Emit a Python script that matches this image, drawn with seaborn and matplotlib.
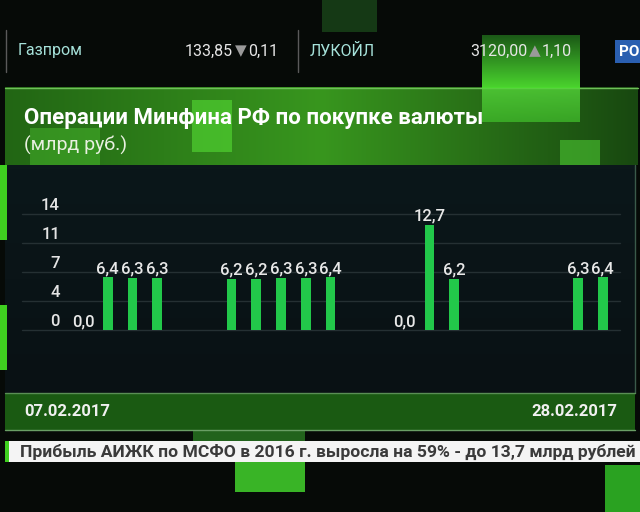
import numpy as np
import pandas as pd
import matplotlib
matplotlib.use("Agg")
import matplotlib.pyplot as plt
from matplotlib.patches import Rectangle
import seaborn as sns

# ---------------- data ----------------
dates = ["07.02", "08.02", "09.02", "10.02", "11.02", "12.02", "13.02", "14.02",
         "15.02", "16.02", "17.02", "18.02", "19.02", "20.02", "21.02", "22.02",
         "23.02", "24.02", "25.02", "26.02", "27.02", "28.02"]
values = [0.0, 6.4, 6.3, 6.3, np.nan, np.nan, 6.2, 6.2, 6.3, 6.3, 6.4, np.nan,
          np.nan, 0.0, 12.7, 6.2, np.nan, np.nan, np.nan, np.nan, 6.3, 6.4]
y_ticks = [0, 3.5, 7, 10.5, 14]
y_tick_labels = ["0", "4", "7", "11", "14"]
title = "Операции Минфина РФ по покупке валюты"
subtitle = "(млрд руб.)"
start_label = "07.02.2017"
end_label = "28.02.2017"
ticker_news = "Прибыль АИЖК по МСФО в 2016 г. выросла на 59% - до 13,7 млрд рублей"
stock_names = ["Газпром", "ЛУКОЙЛ"]
stock_prices = ["133,85", "3120,00"]
stock_arrows = ["▼", "▲"]
stock_changes = ["0,11", "1,10"]

df = pd.DataFrame({"date": dates, "value": values})

sns.set_theme(style="dark")
plt.rcParams["font.family"] = ["Roboto", "DejaVu Sans"]

W, H = 640, 512
fig = plt.figure(figsize=(6.4, 5.12), dpi=100)
fig.patch.set_facecolor("#060a07")

bg = fig.add_axes([0, 0, 1, 1], zorder=0)
bg.set_xlim(0, W)
bg.set_ylim(H, 0)
bg.axis("off")
bg.set_facecolor("#060a07")


def rect(x, y, w, h, color, alpha=1.0, z=1):
    bg.add_patch(Rectangle((x, y), w, h, facecolor=color, alpha=alpha,
                           edgecolor="none", zorder=z))


def vgrad(x0, x1, y0, y1, ctop, cbot, z, alpha=1.0):
    t = np.linspace(0, 1, 64)[:, None]
    a = np.array(matplotlib.colors.to_rgb(ctop))
    b = np.array(matplotlib.colors.to_rgb(cbot))
    img = (a + (b - a) * t)[:, None, :]
    bg.imshow(img, extent=[x0, x1, y1, y0], aspect="auto", zorder=z, alpha=alpha)


# faint top decoration
rect(322, 0, 55, 32, "#173f17", 0.9, 1)
# title panel gradient
g = np.linspace(0, 1, 256)[:, None]
c_left = np.array([0x22, 0x66, 0x14]) / 255
c_mid = np.array([0x38, 0x96, 0x1e]) / 255
c_right = np.array([0x18, 0x48, 0x10]) / 255
cols = np.where(g < 0.5, c_left + (c_mid - c_left) * (g / 0.5),
                c_mid + (c_right - c_mid) * ((g - 0.5) / 0.5))
bg.imshow(cols[None, :, :], extent=[5, 638, 165, 87], aspect="auto", zorder=1)
bg.plot([5, 638], [87.5, 87.5], color="#6fbf5a", lw=1, zorder=2)
# decorative squares
vgrad(482, 580, 35, 88, "#1d5e18", "#4ee030", 2, 0.95)
vgrad(482, 580, 88, 122, "#55d63a", "#3fb82a", 2, 0.8)
rect(192, 100, 40, 52, "#4fd030", 0.7, 2)
rect(30, 128, 70, 40, "#47b82c", 0.5, 2)
rect(560, 140, 40, 30, "#4cc832", 0.6, 2)
# chart panel
vgrad(5, 635, 165, 393, "#0b171a", "#091114", 3)
bg.plot([635, 635], [165, 393], color="#3a5a4a", lw=1, zorder=4)
rect(0, 165, 7, 75, "#3fd020", 1, 4)
rect(0, 305, 7, 65, "#3fd020", 1, 4)
# date bar
rect(5, 393, 630, 37, "#1a5a12", 1, 3)
bg.plot([5, 635], [393, 393], color="#5a8f55", lw=1, zorder=4)
bg.plot([5, 635], [430, 430], color="#6a9f65", lw=1, zorder=4)
# bottom squares
rect(193, 430, 112, 11, "#2a7a22", 0.8, 2)
rect(235, 441, 70, 51, "#3fc82a", 0.9, 2)
rect(605, 465, 35, 47, "#2fb424", 0.9, 2)
# news ticker
rect(5, 441, 635, 21, "#f4f4f4", 1, 5)
rect(5, 441, 4, 21, "#3fd020", 1, 6)
# top ticker separators and blue tag
for sx in [6, 298]:
    bg.plot([sx, sx], [30, 72], color="#5a5a5a", lw=1, zorder=4)
rect(615, 40, 25, 23, "#2a5fb0", 1, 5)
bg.text(619, 52, "РО", color="white", fontsize=11, fontweight="bold",
        va="center", ha="left", zorder=6)

# top ticker text, chained from the right edge
renderer = fig.canvas.get_renderer()
name_x = [18, 310]
right_x = [278, 572]
for name, price, arrow, chg, xl, xr in zip(stock_names, stock_prices, stock_arrows,
                                           stock_changes, name_x, right_x):
    bg.text(xl, 51, name, color="#a6e2da", fontsize=11.5, va="center", ha="left", zorder=6)
    t = bg.text(xr, 51, chg, color="#e6e6e6", fontsize=11.5, va="center", ha="right", zorder=6)
    w = t.get_window_extent(renderer).width
    ta = bg.text(xr - w - 1, 51, arrow, color="#9a9a9a", fontsize=11, va="center",
                 ha="right", family=["DejaVu Sans"], zorder=6)
    wa = ta.get_window_extent(renderer).width
    bg.text(xr - w - wa - 3, 51, price, color="#e6e6e6", fontsize=11.5, va="center",
            ha="right", zorder=6)

# title texts
bg.text(24, 118, title, color="white", fontsize=16, fontweight="semibold",
        va="center", ha="left", zorder=6)
bg.text(24, 145, subtitle, color="#e8f0e0", fontsize=14, va="center", ha="left", zorder=6)
bg.text(24, 411, start_label, color="#f0f0f0", fontsize=12, fontweight="bold",
        va="center", ha="left", zorder=6)
bg.text(617, 411, end_label, color="#f0f0f0", fontsize=12, fontweight="bold",
        va="center", ha="right", zorder=6)
bg.text(20, 452, ticker_news, color="#3a3a3a", fontsize=12.6, fontweight="bold",
        va="center", ha="left", zorder=7)

# ---------------- chart axes ----------------
left_px, right_px, top_px, bot_px = 22, 620, 214, 330
ax = fig.add_axes([left_px / W, 1 - bot_px / H, (right_px - left_px) / W,
                   (bot_px - top_px) / H], zorder=5)
ax.patch.set_alpha(0)

sns.barplot(data=df, x="date", y="value", order=dates, width=0.4,
            color="#22c84a", saturation=1, linewidth=0, errorbar=None, ax=ax)

slot0_px, slot_step = 83, 24.75
ax.set_xlim((left_px - slot0_px) / slot_step, (right_px - slot0_px) / slot_step)
ax.set_ylim(0, 14)
for s in ax.spines.values():
    s.set_visible(False)
ax.set_xticks([])
ax.set_yticks([])
ax.set_xlabel("")
ax.set_ylabel("")
for yv in y_ticks:
    ax.axhline(yv, color="#253033", lw=1, zorder=0, clip_on=False)
for yv, lbl in zip(y_ticks, y_tick_labels):
    ax.annotate(lbl, xy=(0, yv), xycoords=("axes fraction", "data"),
                xytext=(38, 4), textcoords="offset pixels", ha="right",
                va="baseline", color="#e4e4e4", fontsize=12, fontweight="medium",
                annotation_clip=False)
for i, v in enumerate(values):
    if not np.isnan(v):
        ax.annotate(f"{v:.1f}".replace(".", ","), xy=(i, v), xytext=(0, 4),
                    textcoords="offset pixels", ha="center", va="baseline",
                    color="#e8e8e8", fontsize=12, fontweight="medium",
                    annotation_clip=False)

fig.savefig("out.png", dpi=100, facecolor=fig.get_facecolor())
